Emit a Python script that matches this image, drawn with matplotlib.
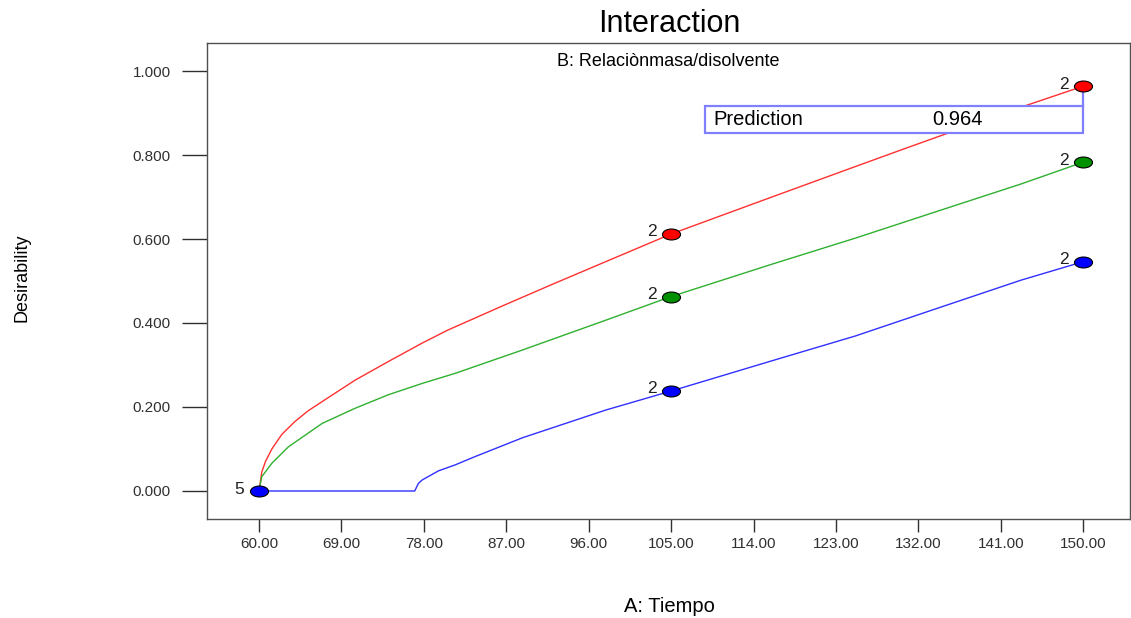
import numpy as np
import matplotlib
matplotlib.use("Agg")
from matplotlib import pyplot as plt
from matplotlib.path import Path
from matplotlib.transforms import Affine2D

plt.rcParams['font.family'] = ['Liberation Sans', 'DejaVu Sans']

# curves (A: Tiempo vs Desirability)
red_x = [60.0, 60.3, 60.7, 61.4, 62.5, 63.9, 65.3, 66.9, 70.5, 74.1, 77.8, 80.6, 86.3,
         91.8, 97.2, 105.0, 110.0, 116.0, 125.3, 130.1, 134.7, 143.9, 150.0]
red_y = [0.000, 0.045, 0.070, 0.100, 0.135, 0.165, 0.190, 0.213, 0.264, 0.308, 0.352, 0.383,
         0.438, 0.490, 0.540, 0.612, 0.652, 0.700, 0.774, 0.812, 0.848, 0.919, 0.964]
green_x = [60.0, 60.3, 61.4, 63.2, 66.9, 70.5, 74.1, 77.8, 81.4, 88.8, 97.9, 105.0,
           116.0, 125.1, 134.2, 143.2, 150.0]
green_y = [0.000, 0.034, 0.066, 0.105, 0.161, 0.197, 0.229, 0.256, 0.280, 0.336, 0.407, 0.463,
           0.540, 0.602, 0.667, 0.731, 0.783]
blue_x = [60.0, 77.0, 77.4, 77.8, 79.6, 81.4, 83.6, 88.8, 97.9, 105.0,
          116.0, 125.1, 134.2, 143.2, 150.0]
blue_y = [0.000, 0.000, 0.018, 0.026, 0.048, 0.062, 0.082, 0.127, 0.193, 0.238,
          0.310, 0.369, 0.436, 0.502, 0.546]

# design points
pt_x = [105.0, 150.0]
red_pts = [0.612, 0.964]
green_pts = [0.463, 0.783]
blue_pts = [0.238, 0.546]
pt_labels = ["2", "2"]
center_x, center_y, center_label = 60.0, 0.0, "5"

x_ticks = [60, 69, 78, 87, 96, 105, 114, 123, 132, 141, 150]
y_ticks = [0.0, 0.2, 0.4, 0.6, 0.8, 1.0]
prediction = 0.964

fig = plt.figure(figsize=(11.31, 6.18), dpi=100)
ax = fig.add_axes([207/1131, 1 - 519/618, (1130 - 207)/1131, (519 - 43)/618])

ax.plot(red_x, red_y, color='#ff3030', lw=1.0)
ax.plot(green_x, green_y, color='#30b030', lw=1.0)
ax.plot(blue_x, blue_y, color='#3030ff', lw=1.0)

ell = Path(Affine2D().scale(1.65, 1.0).transform(Path.unit_circle().vertices),
           Path.unit_circle().codes)
mk = dict(marker=ell, ms=13, mec='black', mew=0.8, ls='none', zorder=5)
ax.plot(pt_x, red_pts, mfc='#ff0000', **mk)
ax.plot(pt_x, green_pts, mfc='#009000', **mk)
ax.plot(pt_x, blue_pts, mfc='#0000ff', **mk)
ax.plot([center_x], [center_y], mfc='#0000ff', **mk)

for ys in (red_pts, green_pts, blue_pts):
    for x, y, lab in zip(pt_x, ys, pt_labels):
        ax.annotate(lab, (x, y), xytext=(-14, 1.5), textcoords='offset points',
                    ha='center', va='center', fontsize=12.5, color='#202020')
ax.annotate(center_label, (center_x, center_y), xytext=(-14, 1), textcoords='offset points',
            ha='center', va='center', fontsize=12.5, color='#202020')

# prediction box
bx0, bx1, by0, by1 = 108.7, 150.0, 0.852, 0.917
ax.fill([bx0, bx1, bx1, bx0], [by0, by0, by1, by1], facecolor='white',
        edgecolor='#8080ff', lw=1.6, zorder=4)
ax.plot([bx1, bx1], [by1, prediction], color='#8080ff', lw=1.6, zorder=4)
ax.text(bx0 + 0.9, (by0 + by1) / 2, "Prediction", fontsize=14.5, va='center', ha='left', zorder=6)
ax.text(136.3, (by0 + by1) / 2, f"{prediction:.3f}", fontsize=14.5, va='center', ha='center', zorder=6)

ax.set_xlim(54.32, 155.1)
ax.set_ylim(-0.0667, 1.0667)
ax.set_xticks(x_ticks)
ax.set_xticklabels([f"{v:.2f}" for v in x_ticks])
ax.set_yticks(y_ticks)
ax.set_yticklabels([f"{v:.3f}" for v in y_ticks])
ax.tick_params(axis='x', direction='out', length=9, width=1, labelsize=11, pad=4, colors='#303030')
ax.tick_params(axis='y', direction='out', length=18, width=1, labelsize=11, pad=8, colors='#303030')
for s in ax.spines.values():
    s.set_color('#505050')
    s.set_linewidth(1.0)

ax.text(0.5, 0.962, "B: Relaciònmasa/disolvente", transform=ax.transAxes,
        ha='center', va='center', fontsize=13)
fig.text(669/1131, 1 - 24/618, "Interaction", ha='center', va='center', fontsize=22)
fig.text(669/1131, 1 - 607/618, "A: Tiempo", ha='center', va='center', fontsize=14.5)
fig.text(22/1131, 1 - 278/618, "Desirability", ha='center', va='center', fontsize=13,
         rotation=90)

fig.savefig("out.png", dpi=100)
